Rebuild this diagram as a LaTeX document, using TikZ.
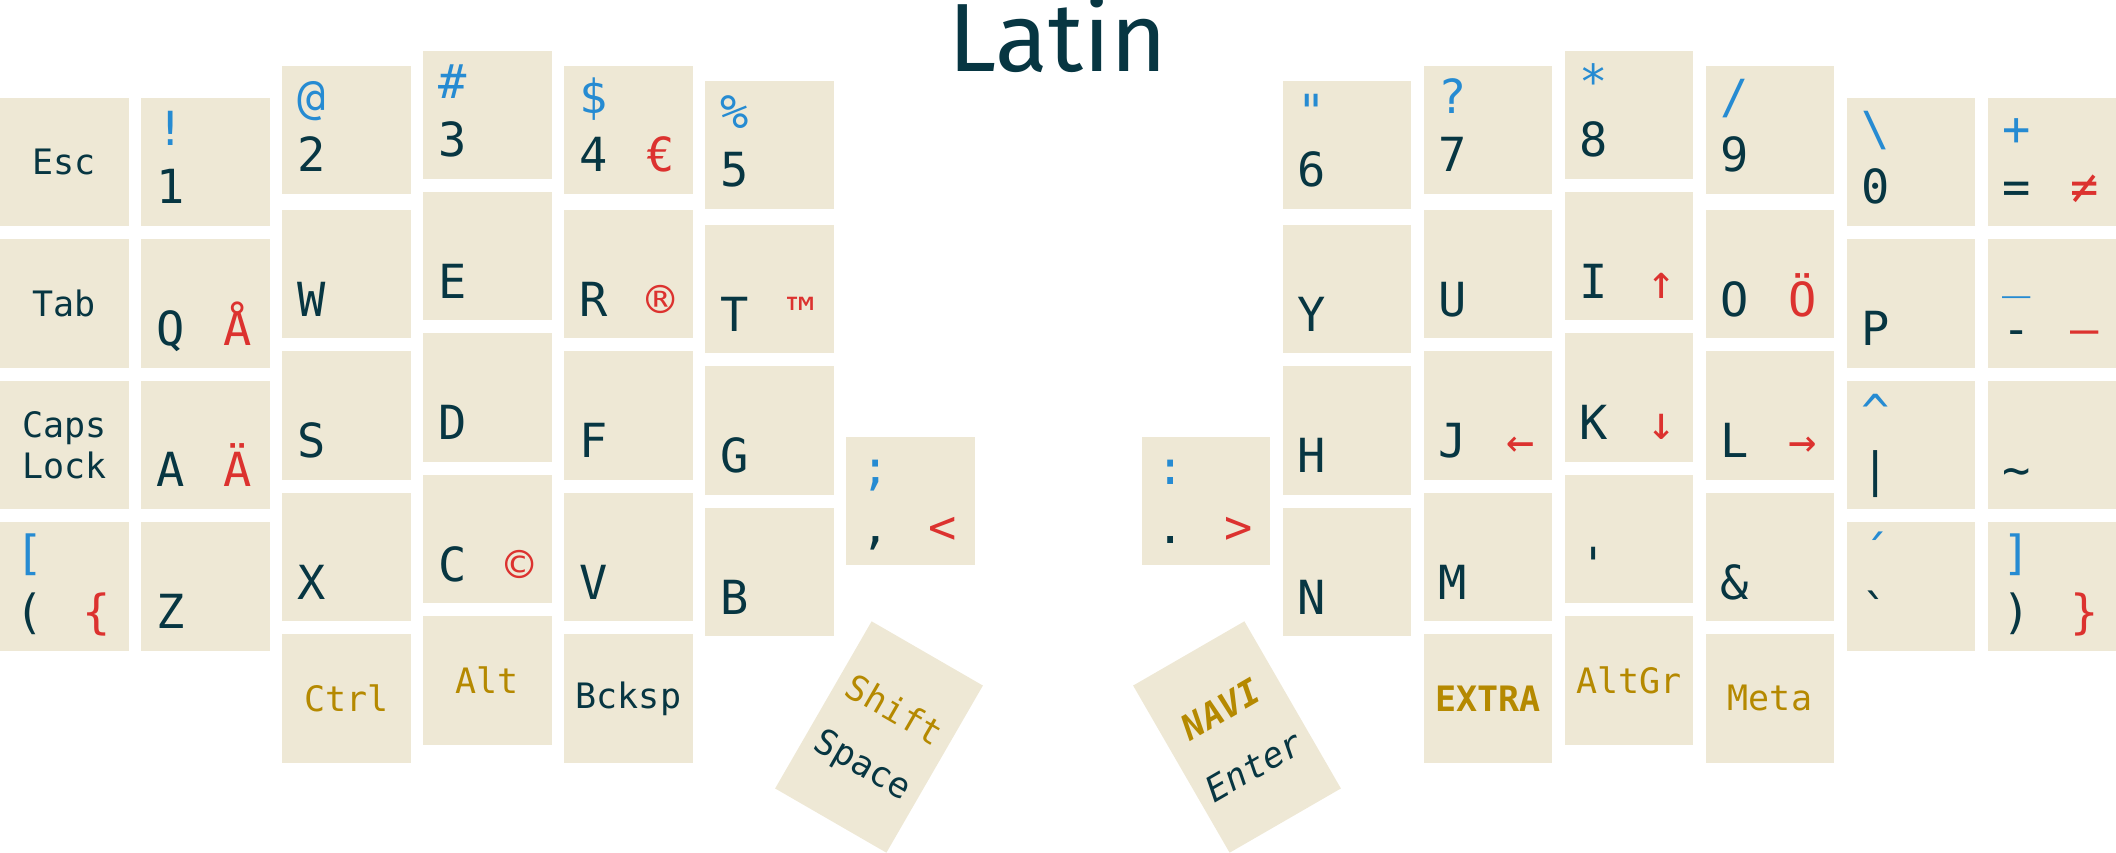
\documentclass[tikz,border=0pt]{standalone}
\usepackage{fontspec}
\setmonofont{DejaVu Sans Mono}
\newfontfamily\titlefont{Fira Sans}
\usetikzlibrary{calc}
\definecolor{base2}{HTML}{EEE8D5}
\definecolor{base02}{HTML}{073642}
\definecolor{solblue}{HTML}{268BD2}
\definecolor{solred}{HTML}{DC322F}
\definecolor{solyellow}{HTML}{B58900}
\newcommand{\drawkey}[6]{%
  \node[keybox] (#1) at (#2,#3) {};
  \node[shiftlbl] (#1-s) at ($(#1.north west)+(15,48)$) {#4};
  \node[mainlbl] (#1-m) at ($(#1.north west)+(15,106.5)$) {#5};
  \node[altlbl] (#1-a) at ($(#1.north east)+(-32,106.5)$) {#6};
}
\begin{document}
\begin{tikzpicture}[x=1pt,y=-1pt,
  keybox/.style={fill=base2, minimum width=128.5pt, minimum height=128.5pt, inner sep=0pt, anchor=north west, text=base02, align=center, font=\ttfamily\fontsize{35}{41}\selectfont},
  thumbbox/.style={fill=base2, minimum width=128.5pt, minimum height=193pt, inner sep=0pt},
  shiftlbl/.style={anchor=base west, inner sep=0pt, text=solblue, font=\ttfamily\fontsize{47}{52}\selectfont},
  mainlbl/.style={anchor=base west, inner sep=0pt, text=base02, font=\ttfamily\fontsize{47}{52}\selectfont},
  altlbl/.style={anchor=base, inner sep=0pt, text=solred, font=\ttfamily\fontsize{47}{52}\selectfont},
  modkey/.style={keybox, text=solyellow},
  thumblbl/.style={inner sep=0pt, text=base02, font=\ttfamily\fontsize{35}{41}\selectfont}]
\useasboundingbox (0,0) rectangle (2116,852);
\node[anchor=base, inner sep=0pt, text=base02, font=\titlefont\fontsize{97}{110}\selectfont] (title) at (1058,71.5) {Latin};
\node[keybox] (esc) at (0,97.3) {Esc};
\node[keybox] (tab) at (0,239) {Tab};
\node[keybox] (caps) at (0,380.4) {Caps\\Lock};
\drawkey{lbrk}{0}{521.8}{[}{(}{\{}
\drawkey{k1}{141}{97.3}{!}{1}{}
\drawkey{kq}{141}{239}{}{Q}{Å}
\drawkey{ka}{141}{380.4}{}{A}{Ä}
\drawkey{kz}{141}{521.8}{}{Z}{}
\drawkey{k2}{282}{65.3}{@}{2}{}
\drawkey{kw}{282}{209.7}{}{W}{}
\drawkey{ks}{282}{351.1}{}{S}{}
\drawkey{kx}{282}{492.5}{}{X}{}
\node[modkey] (ctrl) at (282,633.9) {Ctrl};
\drawkey{k3}{423}{50.3}{\#}{3}{}
\drawkey{ke}{423}{191.7}{}{E}{}
\drawkey{kd}{423}{333.1}{}{D}{}
\drawkey{kc}{423}{474.5}{}{C}{©}
\node[modkey] (alt) at (423,615.9) {Alt};
\drawkey{k4}{564}{65.3}{\$}{4}{€}
\drawkey{kr}{564}{209.7}{}{R}{®}
\drawkey{kf}{564}{351.1}{}{F}{}
\drawkey{kv}{564}{492.5}{}{V}{}
\node[keybox] (bksp) at (564,633.9) {Bcksp};
\drawkey{k5}{705}{80.3}{\%}{5}{}
\drawkey{kt}{705}{224.7}{}{T}{™}
\drawkey{kg}{705}{366.1}{}{G}{}
\drawkey{kb}{705}{507.5}{}{B}{}
\drawkey{semi}{846}{436.7}{;}{,}{<}
\node[thumbbox, rotate=-30] (spc) at (879,737) {};
\node[thumblbl, text=solyellow, rotate=-30] (spc-s) at ($(spc.center)!0.33!(spc.north)$) {Shift};
\node[thumblbl, rotate=-30] (spc-m) at ($(spc.center)!0.35!(spc.south)$) {Space};
\node[thumbbox, rotate=30] (ent) at (1237,737) {};
\node[thumblbl, text=solyellow, font=\ttfamily\bfseries\itshape\fontsize{35}{41}\selectfont, rotate=30] (ent-s) at ($(ent.center)!0.33!(ent.north)$) {NAVI};
\node[thumblbl, font=\ttfamily\itshape\fontsize{35}{41}\selectfont, rotate=30] (ent-m) at ($(ent.center)!0.35!(ent.south)$) {Enter};
\drawkey{colon}{1141.5}{436.7}{:}{.}{>}
\drawkey{k6}{1282.5}{80.3}{"}{6}{}
\drawkey{ky}{1282.5}{224.7}{}{Y}{}
\drawkey{kh}{1282.5}{366.1}{}{H}{}
\drawkey{kn}{1282.5}{507.5}{}{N}{}
\drawkey{k7}{1423.5}{65.3}{?}{7}{}
\drawkey{ku}{1423.5}{209.7}{}{U}{}
\drawkey{kj}{1423.5}{351.1}{}{J}{←}
\drawkey{km}{1423.5}{492.5}{}{M}{}
\node[modkey, font=\ttfamily\bfseries\fontsize{35}{41}\selectfont] (extra) at (1423.5,633.9) {EXTRA};
\drawkey{k8}{1564.5}{50.3}{*}{8}{}
\drawkey{ki}{1564.5}{191.7}{}{I}{↑}
\drawkey{kk}{1564.5}{333.1}{}{K}{↓}
\drawkey{kapos}{1564.5}{474.5}{}{'}{}
\node[modkey] (altgr) at (1564.5,615.9) {AltGr};
\drawkey{k9}{1705.5}{65.3}{/}{9}{}
\drawkey{ko}{1705.5}{209.7}{}{O}{Ö}
\drawkey{kl}{1705.5}{351.1}{}{L}{→}
\drawkey{kamp}{1705.5}{492.5}{}{\&}{}
\node[modkey] (meta) at (1705.5,633.9) {Meta};
\drawkey{k0}{1846.5}{97.3}{\textbackslash}{0}{}
\drawkey{kp}{1846.5}{239}{}{P}{}
\drawkey{kpipe}{1846.5}{380.4}{\textasciicircum}{|}{}
\drawkey{kgrave}{1846.5}{521.8}{´}{`}{}
\drawkey{keq}{1987.5}{97.3}{+}{=}{≠}
\drawkey{kmin}{1987.5}{239}{\_}{-}{—}
\drawkey{ktilde}{1987.5}{380.4}{}{\textasciitilde}{}
\drawkey{krbrk}{1987.5}{521.8}{]}{)}{\}}
\end{tikzpicture}
\end{document}
